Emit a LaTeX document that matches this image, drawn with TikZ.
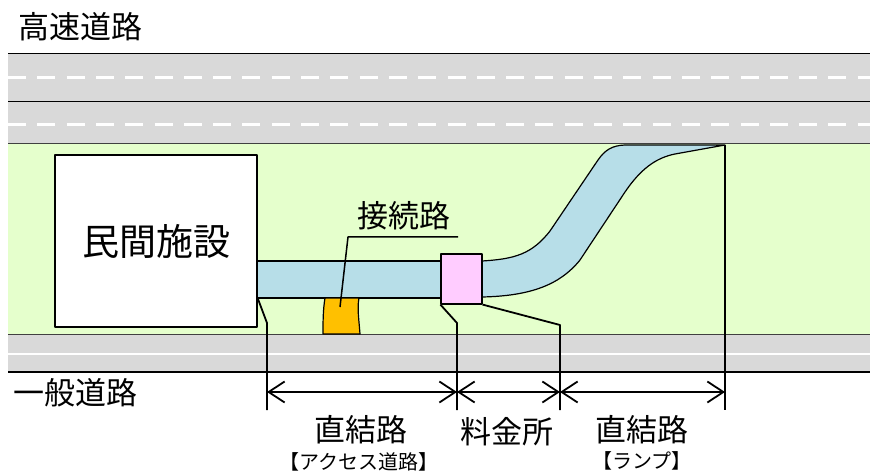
\documentclass[tikz,border=0pt]{standalone}
\usepackage{fontspec}
\setmainfont{Noto Sans CJK JP}
\usetikzlibrary{arrows.meta}
\definecolor{hwgray}{RGB}{217,217,217}
\definecolor{field}{RGB}{229,255,204}
\definecolor{ramp}{RGB}{183,222,232}
\definecolor{gate}{RGB}{255,204,255}
\definecolor{conn}{RGB}{255,192,0}
\tikzset{
	lbl/.style={inner sep=0pt, font=\fontsize{31}{32}\selectfont},
	sub/.style={inner sep=0pt, font=\fontsize{20}{21}\selectfont},
	lane/.style={white, line width=2.5pt, dash pattern=on 18pt off 11.3pt},
	edge/.style={draw=black!75, line width=1pt},
	road/.style={draw, fill=ramp, line width=1.2pt},
	ext/.style={line width=1.8pt},
	dim/.style={line width=1.8pt, {Straight Barb[length=16pt,width=21pt,line width=1.8pt]}-{Straight Barb[length=16pt,width=21pt,line width=1.8pt]}}
}

\begin{document}
\begin{tikzpicture}[x=1pt, y=-1pt, line join=round]
	\useasboundingbox (0,0) rectangle (870,473);
	\fill [hwgray] (8,53.5) rectangle (870,144);
	\fill [field] (8,144) rectangle (870,334);
	\fill [hwgray] (8,334) rectangle (870,372);
	\draw [lane] (8,77.7) -- (870,77.7);
	\draw [lane] (8,124.5) -- (870,124.5);
	\draw [white, line width=2.5pt] (8,354) -- (870,354);
	\draw [line width=1.5pt] (8,53.5) -- (870,53.5);
	\draw [line width=1.5pt] (8,101.5) -- (870,101.5);
	\draw [edge] (8,144) -- (870,144);
	\draw [edge] (8,334) -- (870,334);
	\draw [line width=1.5pt] (8,372) -- (870,372);

	\draw [road] (482,261) .. controls (515,259) and (532,254) .. (550,231) -- (598,160)
		.. controls (605,150) and (612,145.5) .. (625,145) -- (725,145) -- (675,154)
		.. controls (655,158) and (640,170) .. (625,192) -- (580,260)
		.. controls (560,285) and (530,296) .. (482,297);
	\draw [road] (250,261) rectangle (441,298);
	\draw [fill=conn, line width=1.2pt] (325,298) .. controls (323,310) and (323,322) .. (323,334)
		-- (360,334) .. controls (359,320) and (357,308) .. (359,298) -- cycle;

	\node [draw, fill=white, line width=1.5pt, minimum width=202pt, minimum height=172pt,
		font=\fontsize{37}{38}\selectfont] (PF) at (156,241) {民間施設};
	\node [draw, fill=gate, line width=1.2pt, inner sep=0pt, minimum width=41pt,
		minimum height=50pt] (TG) at (461.5,279) {};

	\node [lbl] (HW) at (80,27) {高速道路};
	\node [lbl] (GR) at (75,393) {一般道路};
	\node [lbl] (CL) at (404,216) {接続路};
	\node [lbl] (DR) at (361,430) {直結路};
	\node [sub] (AR) at (359,462) {【アクセス道路】};
	\node [lbl] (TL) at (507,432) {料金所};
	\node [lbl] (DP) at (642,430) {直結路};
	\node [sub] (RP) at (642,461) {【ランプ】};

	\coordinate (CN) at (340,307);
	\coordinate (U1) at (348,237);
	\coordinate (U2) at (458,237);
	\draw [line width=1.5pt] (U2) -- (U1) -- (CN);

	\coordinate (S1) at (258,299);
	\coordinate (K1) at (267,323);
	\coordinate (E1) at (267,410);
	\coordinate (K2) at (457,323);
	\coordinate (E2) at (457,410);
	\coordinate (K3) at (560,325);
	\coordinate (E3) at (560,410);
	\coordinate (S4) at (725,145);
	\coordinate (E4) at (725,410);
	\draw [ext] (S1) -- (K1) -- (E1);
	\draw [ext] (TG.south west) -- (K2) -- (E2);
	\draw [ext] (TG.south east) -- (K3) -- (E3);
	\draw [ext] (S4) -- (E4);

	\draw [dim] (K1 |- 0,392) -- (K2 |- 0,392);
	\draw [dim] (K2 |- 0,392) -- (K3 |- 0,392);
	\draw [dim] (K3 |- 0,392) -- (E4 |- 0,392);
\end{tikzpicture}
\end{document}
